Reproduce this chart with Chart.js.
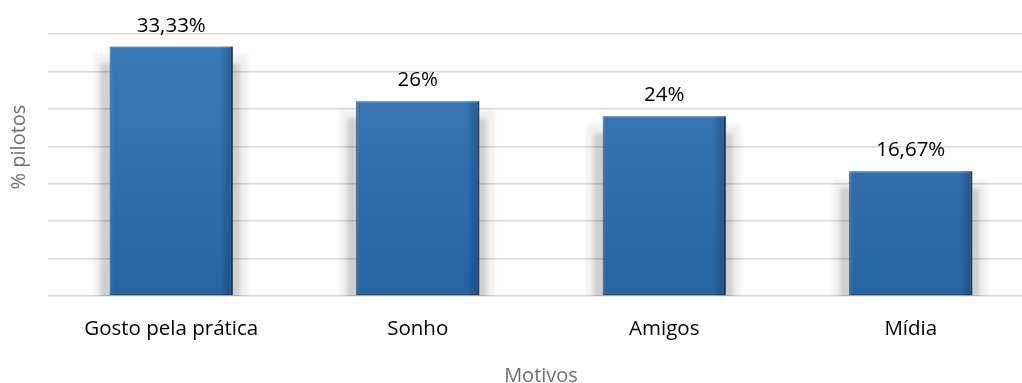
<!DOCTYPE html>
<html>
<head>
<meta charset="utf-8">
<script src="https://cdn.jsdelivr.net/npm/chart.js@4.4.1/dist/chart.umd.min.js"></script>
<style>
  html, body { margin: 0; padding: 0; background: #fff; overflow: hidden; }
  #wrap { position: relative; width: 1034px; height: 383px; }
</style>
</head>
<body>
<div id="wrap"><canvas id="motivos-chart"></canvas></div>
<script>
const motivos = ['Gosto pela prática', 'Sonho', 'Amigos', 'Mídia'];
const pctPilotos = [33.33, 26, 24, 16.67];
const yMax = 35;
const yStep = 5;

const FONT = '"Open Sans", sans-serif';

// formato brasileiro: 33.33 -> "33,33%"
const fmtPct = v => String(v).replace('.', ',') + '%';

// sombra cinza atrás de cada barra (faixa clara por fora, mais escura junto da barra)
const barShadow = {
  id: 'barShadow',
  beforeDatasetsDraw(chart) {
    const { ctx, chartArea } = chart;
    const meta = chart.getDatasetMeta(0);
    ctx.save();
    ctx.beginPath();
    ctx.rect(chartArea.left, chartArea.top, chartArea.right - chartArea.left, chartArea.bottom - chartArea.top);
    ctx.clip();
    meta.data.forEach(bar => {
      const half = bar.width / 2;
      ctx.filter = 'blur(2px)';
      ctx.fillStyle = 'rgba(0,0,0,0.06)';
      ctx.fillRect(bar.x - half - 16, bar.y + 8, bar.width + 31, bar.base - bar.y);
      ctx.fillStyle = 'rgba(0,0,0,0.14)';
      ctx.fillRect(bar.x - half - 9, bar.y + 17, bar.width + 16, bar.base - bar.y);
    });
    ctx.restore();
  }
};

// escurece a borda direita das barras
const barEdges = {
  id: 'barEdges',
  afterDatasetsDraw(chart) {
    const ctx = chart.ctx;
    const meta = chart.getDatasetMeta(0);
    ctx.save();
    meta.data.forEach(bar => {
      const l = bar.x - bar.width / 2;
      const h = bar.base - bar.y;
      const g = ctx.createLinearGradient(l, 0, l + bar.width, 0);
      g.addColorStop(0, 'rgba(255,255,255,0.05)');
      g.addColorStop(0.04, 'rgba(255,255,255,0.0)');
      g.addColorStop(0.9, 'rgba(0,0,0,0.0)');
      g.addColorStop(1, 'rgba(10,30,60,0.3)');
      ctx.fillStyle = g;
      ctx.fillRect(l, bar.y, bar.width, h);
    });
    ctx.restore();
  }
};

// rótulos de valor acima das barras + títulos dos eixos
const labelsPlugin = {
  id: 'labelsPlugin',
  afterDraw(chart) {
    const { ctx, chartArea } = chart;
    const meta = chart.getDatasetMeta(0);
    ctx.save();
    ctx.font = '20.5px ' + FONT;
    ctx.fillStyle = '#000';
    ctx.textAlign = 'center';
    ctx.textBaseline = 'alphabetic';
    meta.data.forEach((bar, i) => {
      ctx.fillText(fmtPct(pctPilotos[i]), bar.x, bar.y - 15);
    });

    ctx.fillStyle = '#6f6f6f';
    ctx.font = '20px ' + FONT;
    ctx.fillText('Motivos', (chartArea.left + chartArea.right) / 2, 382);

    ctx.textBaseline = 'middle';
    ctx.translate(19, 147);
    ctx.rotate(-Math.PI / 2);
    ctx.fillText('% pilotos', 0, 0);
    ctx.restore();
  }
};

function barFill(context) {
  const area = context.chart.chartArea;
  if (!area) return '#2e6aa8';
  const g = context.chart.ctx.createLinearGradient(0, area.top, 0, area.bottom);
  g.addColorStop(0, '#3d79b6');
  g.addColorStop(1, '#2564a3');
  return g;
}

const ctx = document.getElementById('motivos-chart').getContext('2d');
new Chart(ctx, {
  type: 'bar',
  data: {
    labels: motivos,
    datasets: [{
      data: pctPilotos,
      backgroundColor: barFill,
      borderColor: '#1f446e',
      borderWidth: { top: 1, left: 1, right: 2, bottom: 2 },
      borderSkipped: false,
      barPercentage: 0.5,
      categoryPercentage: 1.0,
    }]
  },
  options: {
    responsive: true,
    maintainAspectRatio: false,
    animation: false,
    layout: { padding: { top: 34, left: 0, right: 0, bottom: 0 } },
    plugins: {
      legend: { display: false },
      tooltip: { enabled: false },
    },
    scales: {
      x: {
        grid: { display: false },
        border: { display: false },
        ticks: {
          color: '#000',
          font: { family: FONT, size: 20.5 },
          padding: 13,
          maxRotation: 0,
        },
        afterFit: s => { s.height = 87; },
      },
      y: {
        min: 0,
        max: yMax,
        ticks: { display: false, stepSize: yStep },
        grid: { color: '#d9d9d9', lineWidth: 1.5, drawTicks: false },
        border: { display: false },
        afterFit: s => { s.width = 48; },
      },
    },
  },
  plugins: [barShadow, barEdges, labelsPlugin],
});
</script>
</body>
</html>
